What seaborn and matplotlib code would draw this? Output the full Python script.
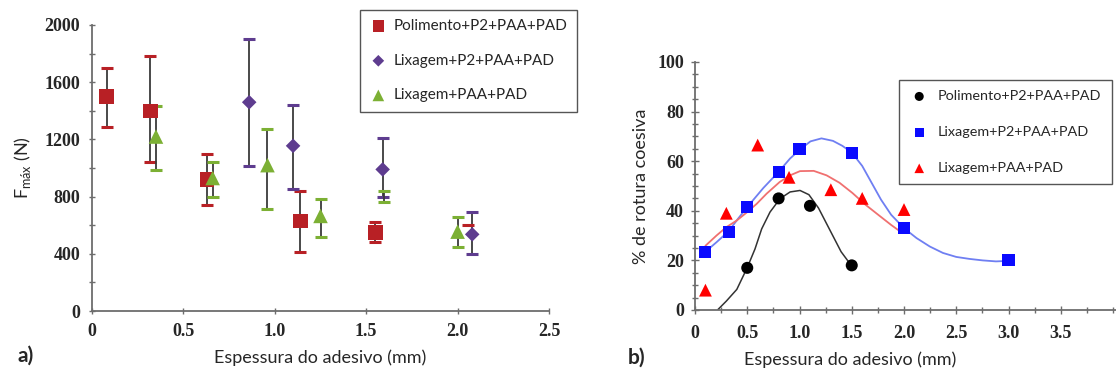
import numpy as np
import pandas as pd
import matplotlib
matplotlib.use("Agg")
import matplotlib.pyplot as plt
from matplotlib.ticker import MultipleLocator
import seaborn as sns

# ---------------- data: chart a) ----------------
a_labels = ["Polimento+P2+PAA+PAD", "Lixagem+P2+PAA+PAD", "Lixagem+PAA+PAD"]

pol_x = [0.08, 0.32, 0.63, 1.14, 1.55]
pol_y = [1500, 1400, 920, 630, 550]
pol_hi = [1700, 1780, 1100, 840, 625]
pol_lo = [1290, 1040, 740, 415, 482]

lix2_x = [0.86, 1.10, 1.59, 2.08]
lix2_y = [1460, 1155, 990, 536]
lix2_hi = [1900, 1440, 1210, 690]
lix2_lo = [1015, 850, 795, 398]

lix_x = [0.35, 0.66, 0.96, 1.25, 2.00]
lix_y = [1220, 930, 1020, 665, 555]
lix_hi = [1435, 1040, 1275, 780, 655]
lix_lo = [985, 800, 710, 515, 450]

# error bars whose marker is hidden
lix_hidden_x = [1.60]
lix_hidden_y = [800]
lix_hidden_hi = [840]
lix_hidden_lo = [765]
pol_cap_x = [2.055]
pol_cap_y = [600]

a_xticks = [0, 0.5, 1.0, 1.5, 2.0, 2.5]
a_xticklabels = ["0", "0.5", "1.0", "1.5", "2.0", "2.5"]
a_yticks = [0, 400, 800, 1200, 1600, 2000]

# ---------------- data: chart b) ----------------
b_labels = ["Polimento+P2+PAA+PAD", "Lixagem+P2+PAA+PAD", "Lixagem+PAA+PAD"]

bpol_x = [0.5, 0.8, 1.1, 1.5]
bpol_y = [17, 45, 42, 18]
bpol_curve_x = [0.22, 0.30, 0.40, 0.50, 0.574, 0.638, 0.718, 0.814, 0.91, 1.005,
                1.09, 1.182, 1.29, 1.398, 1.5]
bpol_curve_y = [0.2, 3.6, 8.3, 17.1, 24.6, 32.7, 39.5, 44.9, 47.6, 48.2,
                46.5, 41.1, 32.3, 23.5, 17.7]

blix2_x = [0.1, 0.33, 0.5, 0.8, 1.0, 1.5, 2.0, 3.0]
blix2_y = [23.5, 31.5, 41.5, 55.5, 65, 63.5, 33, 20.3]
blix2_curve_x = [0.1, 0.205, 0.318, 0.41, 0.5, 0.654, 0.80, 0.91, 1.01, 1.105, 1.21,
                 1.32, 1.41, 1.5, 1.60, 1.69, 1.78, 1.877, 2.0, 2.12, 2.247, 2.373,
                 2.5, 2.627, 2.753, 2.88, 3.0]
blix2_curve_y = [23.5, 27.3, 31.6, 36.7, 41.5, 49.2, 55.7, 61.1, 64.9, 68.0, 69.2,
                 68.2, 66.2, 63.5, 58.1, 51.3, 44.5, 38.4, 33.0, 29.0, 25.6, 23.0,
                 21.4, 20.6, 20.0, 19.6, 19.8]

blix_x = [0.1, 0.3, 0.6, 0.9, 1.3, 1.6, 2.0]
blix_y = [8, 39, 66.5, 53.5, 48.5, 45, 40.5]
blix_curve_x = [0.1, 0.205, 0.30, 0.40, 0.50, 0.59, 0.685, 0.81, 0.91, 1.005, 1.136,
                1.259, 1.383, 1.506, 1.63, 1.753, 1.877, 1.985]
blix_curve_y = [25.9, 30.0, 33.4, 36.1, 39.5, 42.8, 46.9, 51.6, 54.3, 56.0, 56.1,
                54.3, 51.3, 47.2, 42.5, 38.4, 34.3, 31.0]

b_xticks = [0, 0.5, 1.0, 1.5, 2.0, 2.5, 3.0, 3.5]
b_xticklabels = ["0", "0.5", "1.0", "1.5", "2.0", "2.5", "3.0", "3.5"]
b_yticks = [0, 20, 40, 60, 80, 100]

# ---------------- style ----------------
sns.set_style("ticks")
plt.rcParams["font.family"] = ["Lato", "DejaVu Sans"]

W, H = 1116, 374
fig = plt.figure(figsize=(W / 100, H / 100), dpi=100)

sans = ["Lato", "DejaVu Sans"]
axis_grey = "#6d6d6d"

RED = "#b82025"
PURPLE = "#5e3c8f"
GREEN = "#7cb034"
BAR = "#3a3a3a"


def style_ticklabels(ax):
    for lab in ax.get_xticklabels() + ax.get_yticklabels():
        lab.set_fontfamily(["Liberation Serif", "DejaVu Serif"])
        lab.set_fontweight("bold")
        lab.set_fontsize(13)


# ---------------- chart a ----------------
axa = fig.add_axes([92 / W, 1 - 311 / H, (549 - 92) / W, (311 - 25) / H])
axa.set_xlim(0, 2.5)
axa.set_ylim(0, 2000)


def errs(x, y, lo, hi, color, ax):
    yerr = [np.array(y) - np.array(lo), np.array(hi) - np.array(y)]
    cont = ax.errorbar(x, y, yerr=yerr, fmt="none", ecolor=BAR, elinewidth=1.3,
                       capsize=4.3, capthick=2.2, zorder=2)
    for cap in cont[1]:
        cap.set_color(color)
        cap.set_markeredgecolor(color)
    return cont


errs(pol_x, pol_y, pol_lo, pol_hi, RED, axa)
errs(lix2_x, lix2_y, lix2_lo, lix2_hi, PURPLE, axa)
errs(lix_x, lix_y, lix_lo, lix_hi, GREEN, axa)
errs(lix_hidden_x, lix_hidden_y, lix_hidden_lo, lix_hidden_hi, GREEN, axa)
axa.plot(pol_cap_x, pol_cap_y, linestyle="none", marker="_", markersize=8.6,
         markeredgewidth=2.2, color=RED, zorder=2)

sns.scatterplot(x=pol_x, y=pol_y, ax=axa, marker="s", s=110, color=RED,
                edgecolor="none", label=a_labels[0], zorder=3, legend=False)
sns.scatterplot(x=lix2_x, y=lix2_y, ax=axa, marker="D", s=55, color=PURPLE,
                edgecolor="none", label=a_labels[1], zorder=3, legend=False)
sns.scatterplot(x=lix_x, y=lix_y, ax=axa, marker="^", s=110, color=GREEN,
                edgecolor="none", label=a_labels[2], zorder=3, legend=False)

axa.set_xticks(a_xticks)
axa.set_xticklabels(a_xticklabels)
axa.set_yticks(a_yticks)
axa.set_yticklabels([str(v) for v in a_yticks])
axa.yaxis.set_minor_locator(MultipleLocator(200))
axa.tick_params(axis="both", which="both", direction="inout", length=5, width=1,
                color=axis_grey, pad=6)
axa.tick_params(axis="y", which="major", pad=6)
style_ticklabels(axa)
for s in ["top", "right"]:
    axa.spines[s].set_visible(False)
for s in ["left", "bottom"]:
    axa.spines[s].set_color(axis_grey)
    axa.spines[s].set_linewidth(1.3)
axa.set_xlabel("Espessura do adesivo (mm)", family=sans, fontsize=13)
axa.xaxis.set_label_coords(0.5, -(349 - 311) / (311 - 25))
axa.set_ylabel(r"F$_{\mathregular{máx}}$ (N)", family=sans, fontsize=13, labelpad=8)

h, l = axa.get_legend_handles_labels()
fig.legend(h, l, loc="upper left", bbox_to_anchor=(360 / W, 1 - 10 / H),
           prop=dict(family=sans, size=11), frameon=True, fancybox=False,
           edgecolor="#555555", framealpha=1, labelspacing=1.35, markerscale=0.8,
           handletextpad=0.4, handlelength=1.2, borderpad=0.6, borderaxespad=0)

fig.text(18 / W, 1 - 356 / H, "a)", family=sans, fontsize=15, weight="bold",
         va="center", ha="left")

# ---------------- chart b ----------------
axb = fig.add_axes([695 / W, 1 - 310 / H, (W - 695) / W, (310 - 62) / H])
axb.set_xlim(0, (W - 695) / 104.5)
axb.set_ylim(0, 100)

sns.lineplot(x=bpol_curve_x, y=bpol_curve_y, ax=axb, color="#333333", lw=1.1,
             sort=False, estimator=None, zorder=2)
sns.lineplot(x=blix2_curve_x, y=blix2_curve_y, ax=axb, color="#6f7ff2", lw=1.3,
             sort=False, estimator=None, zorder=2)
sns.lineplot(x=blix_curve_x, y=blix_curve_y, ax=axb, color="#f07070", lw=1.3,
             sort=False, estimator=None, zorder=2)

sns.scatterplot(x=bpol_x, y=bpol_y, ax=axb, marker="o", s=75, color="black",
                edgecolor="none", label=b_labels[0], zorder=3, legend=False)
sns.scatterplot(x=blix2_x, y=blix2_y, ax=axb, marker="s", s=75, color="#0a0aff",
                edgecolor="none", label=b_labels[1], zorder=3, legend=False)
sns.scatterplot(x=blix_x, y=blix_y, ax=axb, marker="^", s=85, color="#ff0000",
                edgecolor="none", label=b_labels[2], zorder=3, legend=False)

axb.set_xticks(b_xticks)
axb.set_xticklabels(b_xticklabels)
axb.xaxis.set_minor_locator(MultipleLocator(0.25))
axb.set_yticks(b_yticks)
axb.set_yticklabels([str(v) for v in b_yticks])
axb.yaxis.set_minor_locator(MultipleLocator(5))
axb.tick_params(axis="both", which="major", direction="inout", length=6, width=1,
                color=axis_grey, pad=8)
axb.tick_params(axis="y", which="major", pad=5)
axb.tick_params(axis="both", which="minor", direction="inout", length=4, width=1,
                color=axis_grey)
style_ticklabels(axb)
for s in ["top", "right"]:
    axb.spines[s].set_visible(False)
for s in ["left", "bottom"]:
    axb.spines[s].set_color(axis_grey)
    axb.spines[s].set_linewidth(1.3)
axb.set_xlabel("Espessura do adesivo (mm)", family=sans, fontsize=13)
axb.xaxis.set_label_coords((850 - 695) / (W - 695), -(351 - 310) / (310 - 62))
axb.set_ylabel("% de rotura coesiva", family=sans, fontsize=13, labelpad=6)

h, l = axb.get_legend_handles_labels()
fig.legend(h, l, loc="upper left", bbox_to_anchor=(899 / W, 1 - 80 / H),
           prop=dict(family=sans, size=10.4), frameon=True, fancybox=False,
           edgecolor="#555555", framealpha=1, labelspacing=1.65, markerscale=0.75,
           handletextpad=0.6, handlelength=1.4, borderpad=0.7, borderaxespad=0)

fig.text(628 / W, 1 - 358 / H, "b)", family=sans, fontsize=15, weight="bold",
         va="center", ha="left")

fig.savefig("out.png", dpi=100)
